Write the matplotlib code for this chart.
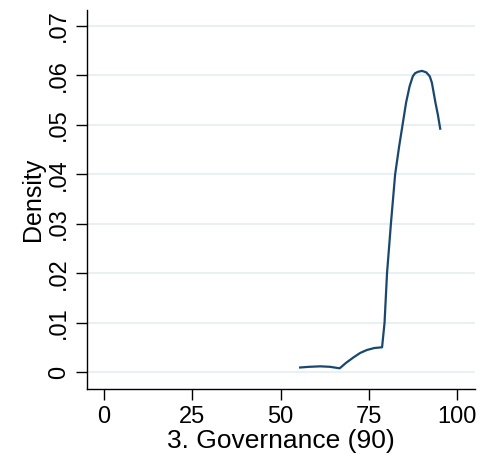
import matplotlib
matplotlib.use("Agg")
import matplotlib.pyplot as plt
import numpy as np

plt.rcParams['font.family'] = ['Liberation Sans', 'DejaVu Sans']

# Kernel density estimate of the governance score
score = [55.2, 58.0, 61.2, 64.0, 66.7, 68.5, 70.6, 72.5, 74.4, 76.5, 78.7,
         79.4, 80.1, 81.2, 82.4, 83.5, 84.5, 85.5, 86.5, 87.4, 88.0, 88.8,
         90.0, 91.2, 92.2, 92.8, 93.8, 94.5, 95.2]
density = [0.00095, 0.0011, 0.0012, 0.0011, 0.0008, 0.0019, 0.0030, 0.0039,
           0.0045, 0.0049, 0.00505, 0.0100, 0.0200, 0.0300, 0.0400, 0.0455,
           0.0500, 0.0545, 0.0578, 0.0598, 0.0604, 0.0607, 0.0609, 0.0606,
           0.0598, 0.0585, 0.0545, 0.0520, 0.0490]

x_ticks = [0, 25, 50, 75, 100]
y_ticks = [0, 0.01, 0.02, 0.03, 0.04, 0.05, 0.06, 0.07]
y_labels = ["0", ".01", ".02", ".03", ".04", ".05", ".06", ".07"]

W, H = 490, 463
fig = plt.figure(figsize=(W / 100, H / 100), dpi=100)
left, right, top, bottom = 87, 475, 10, 389
ax = fig.add_axes([left / W, 1 - bottom / H, (right - left) / W, (bottom - top) / H])

ax.plot(score, density, color="#1a476f", linewidth=1.6, solid_joinstyle="round",
        solid_capstyle="butt")

ax.set_xlim(-4.81, 105.0)
ax.set_ylim(-0.00338, 0.0732)

ax.set_xticks(x_ticks)
ax.set_yticks(y_ticks)
ax.set_yticklabels(y_labels, rotation=90, va="center")
ax.tick_params(axis="both", direction="out", length=8, width=1, labelsize=17,
               color="black")
ax.tick_params(axis="x", pad=4.5)
ax.tick_params(axis="y", pad=4.5)

ax.grid(axis="y", color="#e8f0f2", linewidth=1.5)
ax.grid(axis="x", visible=False)
ax.set_axisbelow(True)

for side in ("top", "right"):
    ax.spines[side].set_visible(False)
for side in ("left", "bottom"):
    ax.spines[side].set_linewidth(1)
    ax.spines[side].set_color("black")

ax.set_xlabel("3. Governance (90)", fontsize=19, labelpad=0.5)
ax.set_ylabel("Density", fontsize=18, labelpad=2)

fig.savefig("out.png", dpi=100, facecolor="white")
